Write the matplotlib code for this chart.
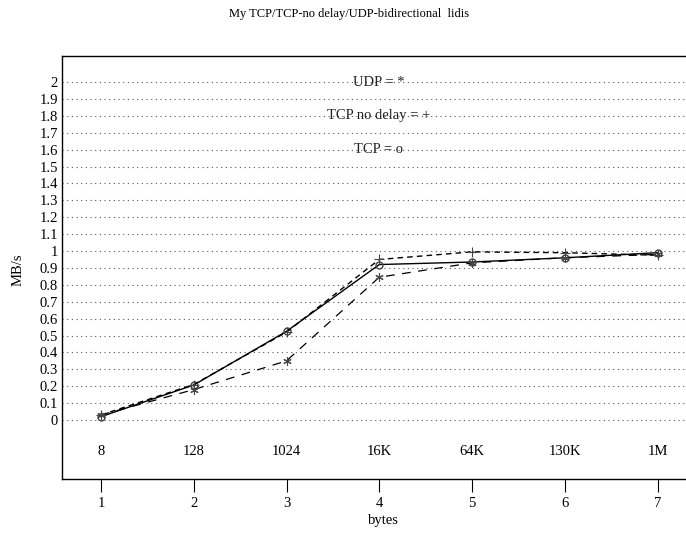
import matplotlib
matplotlib.use("Agg")
import matplotlib.pyplot as plt
import numpy as np

plt.rcParams['font.family'] = ['Liberation Serif', 'DejaVu Serif']

steps = [1, 2, 3, 4, 5, 6, 7]
sizes = ['8', '128', '1024', '16K', '64K', '130K', '1M']
tcp = [0.02, 0.207, 0.525, 0.92, 0.935, 0.96, 0.99]
tcp_nodelay = [0.03, 0.21, 0.52, 0.95, 0.995, 0.99, 0.975]
udp = [0.03, 0.18, 0.35, 0.845, 0.93, 0.96, 0.98]
legend_labels = ['UDP = *', 'TCP no delay = +', 'TCP = o']
yticks = np.round(np.arange(0, 2.01, 0.1), 1)

fs = 10.5

fig = plt.figure(figsize=(6.86, 5.33), dpi=100)
ax = fig.add_axes([62 / 686, 1 - 479 / 533, 642 / 686, 423 / 533])

ax.plot(steps, tcp, color='black', lw=1.0, marker='o', ms=5, mfc='none',
        mec='#444444', mew=1.0)
ax.plot(steps, tcp_nodelay, color='black', lw=1.0, ls=(0, (4, 3)),
        marker='+', ms=7, mec='#444444', mew=0.8)
ax.plot(steps, udp, color='black', lw=0.9, ls=(0, (7, 6)),
        marker=(6, 2, 0), ms=6, mec='#444444', mew=0.8)

# legend written as text inside the plot
for lab, yy in zip(legend_labels, [2.0, 1.8, 1.6]):
    ax.text(3.99, yy, lab, ha='center', va='center', fontsize=fs, color='#222222')

# byte sizes inside the box
for s, lab in zip(steps, sizes):
    ax.text(s, -0.188, lab, ha='center', va='center', fontsize=fs)

ax.set_xlim(0.58, 7.5)
ax.set_ylim(-0.349, 2.154)
ax.set_xticks(steps)
ax.set_yticks(yticks)
ax.set_yticklabels([f'{v:g}' for v in yticks], fontsize=fs)
ax.tick_params(axis='x', direction='out', length=9, width=0.8, labelsize=fs, pad=4)
ax.tick_params(axis='y', length=0, pad=3)
ax.grid(axis='y', color='#555555', ls=(0, (1, 3.2)), lw=0.8)
ax.set_axisbelow(True)
for sp in ax.spines.values():
    sp.set_linewidth(1.0)

ax.set_xlabel('bytes', fontsize=fs, labelpad=3)
fig.text(18 / 686, 1 - 270 / 533, 'MB/s', rotation=90, ha='center', va='center', fontsize=fs)
fig.text(349 / 686, 1 - 14 / 533, 'My TCP/TCP-no delay/UDP-bidirectional  lidis',
         ha='center', va='center', fontsize=9)

fig.savefig('out.png', dpi=100)
